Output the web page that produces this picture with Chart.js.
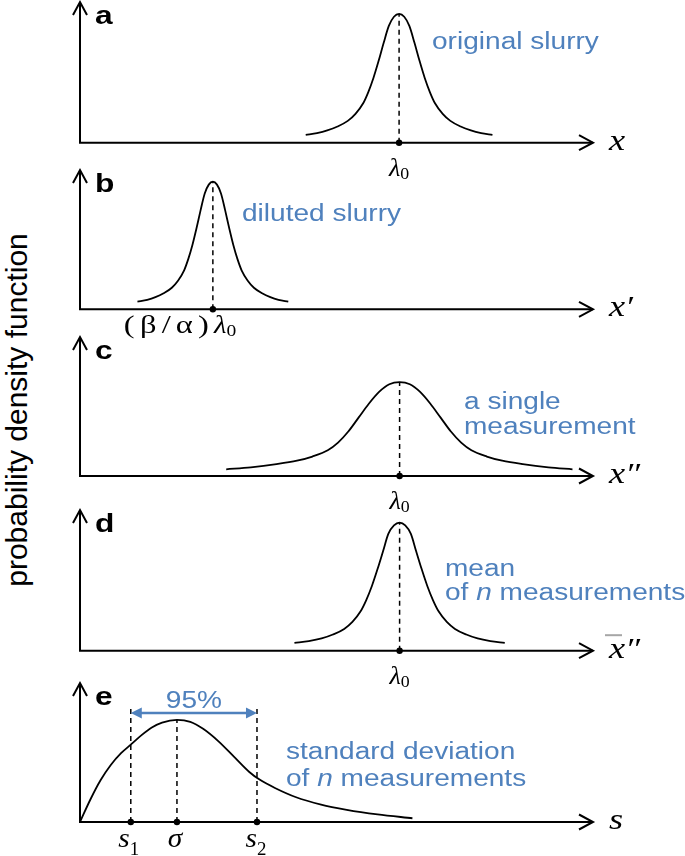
<!DOCTYPE html>
<html>
<head>
<meta charset="utf-8">
<script src="https://cdn.jsdelivr.net/npm/chart.js@4/dist/chart.umd.min.js"></script>
<style>
  body { margin: 0; background: #fff; width: 685px; height: 856px; position: relative; overflow: hidden; }
  .panel { position: absolute; left: 0; width: 685px; height: 190px; }
  #ylabel {
    position: absolute; left: 17px; top: 410px;
    transform: translate(-50%, -50%) rotate(-90deg);
    font: 30px "Liberation Sans", Arial, sans-serif; white-space: nowrap; color: #000;
  }
</style>
</head>
<body>
<div id="ylabel">probability density function</div>
<div class="panel" id="pa"><canvas id="ca"></canvas></div>
<div class="panel" id="pb"><canvas id="cb"></canvas></div>
<div class="panel" id="pc"><canvas id="cc"></canvas></div>
<div class="panel" id="pd"><canvas id="cd"></canvas></div>
<div class="panel" id="pe"><canvas id="ce"></canvas></div>
<script>
// curve a: original slurry
const xA = [44.0, 46.2, 48.2, 50.2, 52.2, 53.7, 55.2, 56.2, 57.2, 58.2, 59.2, 60.2, 61.2, 62.2,
            63.2, 64.2, 65.2, 66.2, 67.2, 68.2, 69.2, 70.7, 72.2, 74.2, 76.2, 78.2, 80.4];
const yA = [0.055, 0.068, 0.087, 0.115, 0.155, 0.205, 0.28, 0.36, 0.46, 0.58, 0.71, 0.83, 0.895, 0.915,
            0.895, 0.83, 0.71, 0.58, 0.46, 0.36, 0.28, 0.205, 0.155, 0.115, 0.087, 0.068, 0.055];
// curve b: diluted slurry
const xB = [11.2, 13.1, 14.7, 16.3, 17.9, 19.1, 20.3, 21.1, 21.9, 22.7, 23.5, 24.3, 25.1, 25.9,
            26.7, 27.5, 28.3, 29.1, 29.9, 30.7, 31.5, 32.7, 33.9, 35.5, 37.1, 38.7, 40.6];
const yB = [0.055, 0.068, 0.087, 0.115, 0.155, 0.205, 0.28, 0.36, 0.46, 0.58, 0.71, 0.83, 0.895, 0.916,
            0.895, 0.83, 0.71, 0.58, 0.46, 0.36, 0.28, 0.205, 0.155, 0.115, 0.087, 0.068, 0.055];
// curve c: a single measurement
const xC = [28.5, 33.3, 38.3, 42.3, 45.3, 48.3, 50.3, 52.3, 54.3, 56.3, 58.3, 60.3, 62.3,
            64.3, 66.3, 68.3, 70.3, 72.3, 74.3, 76.3, 79.3, 82.3, 86.3, 91.3, 96.0];
const yC = [0.048, 0.062, 0.085, 0.11, 0.14, 0.185, 0.24, 0.32, 0.42, 0.52, 0.605, 0.66, 0.675,
            0.66, 0.605, 0.52, 0.42, 0.32, 0.24, 0.185, 0.14, 0.11, 0.085, 0.062, 0.048];
// curve d: mean of n measurements
const xD = [41.8, 44.6, 47.1, 49.3, 51.5, 53.1, 54.7, 55.8, 56.9, 58.0, 59.1, 60.1, 61.2, 62.3,
            63.4, 64.5, 65.5, 66.6, 67.7, 68.8, 69.9, 71.5, 73.1, 75.3, 77.5, 80.0, 82.8];
const yD = [0.055, 0.068, 0.087, 0.115, 0.155, 0.205, 0.28, 0.36, 0.46, 0.58, 0.71, 0.83, 0.89, 0.91,
            0.89, 0.83, 0.71, 0.58, 0.46, 0.36, 0.28, 0.205, 0.155, 0.115, 0.087, 0.068, 0.055];
// curve e: standard deviation of n measurements
const xE = [0, 2, 4, 6, 8, 10, 12, 14, 16, 18.9, 21.5, 24, 27, 30, 33, 35, 38, 42, 47, 52, 58, 64.8];
const yE = [0, 0.16, 0.3, 0.41, 0.495, 0.56, 0.625, 0.68, 0.715, 0.734, 0.72, 0.67, 0.58, 0.47,
            0.36, 0.305, 0.245, 0.18, 0.125, 0.088, 0.055, 0.027];

// marked positions on the horizontal axes and the height of their dashed lines
const markA = [62.2], markTopA = [0.915];
const markB = [25.9], markTopB = [0.916];
const markC = [62.3], markTopC = [0.675];
const markD = [62.3], markTopD = [0.91];
const markE = [9.9, 18.9, 34.5], markTopE = [0.82, 0.734, 0.82];
const span95 = [9.9, 34.5], span95Y = 0.784;

const SANS = '"Liberation Sans", Arial, sans-serif';
const SERIF = '"Liberation Serif", "Times New Roman", serif';
const BLUE = '#4f81bd';
const SX = 1.22;

function runs(ctx, parts, x, y, color, align, sx) {
  sx = sx || SX;
  ctx.save();
  ctx.fillStyle = color;
  ctx.textBaseline = 'alphabetic';
  ctx.textAlign = 'left';
  const widths = parts.map(p => {
    ctx.font = p.f;
    ctx.letterSpacing = (p.ls || 0) + 'px';
    return ctx.measureText(p.t).width * (p.sx || sx);
  });
  const total = widths.reduce((s, w) => s + w, 0);
  let cx = align === 'center' ? x - total / 2 : x;
  parts.forEach((p, i) => {
    ctx.save();
    ctx.font = p.f;
    ctx.letterSpacing = (p.ls || 0) + 'px';
    ctx.translate(cx, y + (p.dy || 0));
    ctx.scale(p.sx || sx, 1);
    ctx.fillText(p.t, 0, 0);
    ctx.restore();
    cx += widths[i];
  });
  ctx.letterSpacing = '0px';
  ctx.restore();
}

const note = t => ({ t: t, f: '23px ' + SANS });
const noteI = t => ({ t: t, f: 'italic 23px ' + SANS });
const lam0 = () => [{ t: 'λ', f: 'italic 25px ' + SERIF }, { t: '0', f: '17px ' + SERIF, dy: 3 }];
const ax = t => [{ t: t, f: 'italic 29px ' + SERIF }];

function makeDeco(o) {
  return {
    id: 'deco',
    beforeDatasetsDraw(chart) {
      const { ctx, chartArea: a } = chart;
      ctx.save();
      ctx.strokeStyle = '#000';
      ctx.lineWidth = 2;
      ctx.beginPath();
      ctx.moveTo(a.left, a.top);
      ctx.lineTo(a.left, a.bottom);
      ctx.lineTo(a.right, a.bottom);
      ctx.stroke();
      ctx.beginPath();
      ctx.moveTo(a.left - 7, a.top + 13);
      ctx.lineTo(a.left, a.top);
      ctx.lineTo(a.left + 7, a.top + 13);
      ctx.moveTo(a.right - 14, a.bottom - 7.5);
      ctx.lineTo(a.right, a.bottom);
      ctx.lineTo(a.right - 14, a.bottom + 7.5);
      ctx.stroke();
      ctx.restore();
    },
    afterDatasetsDraw(chart) {
      const { ctx, chartArea: a, scales } = chart;
      runs(ctx, [{ t: o.letter, f: 'bold 26px ' + SANS }], a.left + 15, a.top + 22, '#000', 'left');
      runs(ctx, o.axisName, a.right + 16, a.bottom + 7, '#000', 'left', 1.25);
      if (o.bar) {
        ctx.save();
        ctx.strokeStyle = '#a6a6a6';
        ctx.lineWidth = 2;
        ctx.beginPath();
        ctx.moveTo(a.right + 12, a.bottom - 15.5);
        ctx.lineTo(a.right + 29, a.bottom - 15.5);
        ctx.stroke();
        ctx.restore();
      }
      o.ticks.forEach(tk => {
        const px = scales.x.getPixelForValue(tk.v);
        runs(ctx, tk.parts, px + (tk.shift || 0), a.bottom + tk.dy, '#000', tk.align || 'center', tk.sx || 1.05);
      });
      o.notes.forEach(n => runs(ctx, n.parts, n.x, a.top + n.dy, BLUE, 'left'));
      if (o.span) {
        const x1 = scales.x.getPixelForValue(o.span.from);
        const x2 = scales.x.getPixelForValue(o.span.to);
        const y = scales.y.getPixelForValue(o.span.y);
        ctx.save();
        ctx.strokeStyle = BLUE;
        ctx.fillStyle = BLUE;
        ctx.lineWidth = 2.5;
        ctx.beginPath();
        ctx.moveTo(x1 + 8, y);
        ctx.lineTo(x2 - 8, y);
        ctx.stroke();
        ctx.beginPath();
        ctx.moveTo(x1, y); ctx.lineTo(x1 + 11, y - 5.5); ctx.lineTo(x1 + 11, y + 5.5); ctx.closePath();
        ctx.moveTo(x2, y); ctx.lineTo(x2 - 11, y - 5.5); ctx.lineTo(x2 - 11, y + 5.5); ctx.closePath();
        ctx.fill();
        ctx.restore();
        runs(ctx, [note(o.span.label)], (x1 + x2) / 2, a.top + o.span.dy, BLUE, 'center');
      }
    }
  };
}

function pts(xs, ys) { return xs.map((x, i) => ({ x: x, y: ys[i] })); }

function makePanel(canvasId, divId, top, axis, xs, ys, marks, markTops, decoOpts) {
  const H = 190;
  document.getElementById(divId).style.top = (top - 4) + 'px';
  const datasets = [{
    data: pts(xs, ys),
    borderColor: '#000', borderWidth: 1.8, pointRadius: 0,
    cubicInterpolationMode: 'monotone', fill: false
  }];
  marks.forEach((m, i) => {
    datasets.push({
      data: [{ x: m, y: 0 }, { x: m, y: markTops[i] }],
      borderColor: '#000', borderWidth: 1.5, borderDash: [5, 4], pointRadius: 0
    });
  });
  datasets.push({
    data: marks.map(m => ({ x: m, y: 0 })),
    showLine: false, pointRadius: 3.2, pointBackgroundColor: '#000', pointBorderWidth: 0, clip: false
  });
  return new Chart(document.getElementById(canvasId), {
    type: 'line',
    data: { datasets: datasets },
    options: {
      responsive: true, maintainAspectRatio: false, animation: false,
      layout: { padding: { left: 80, right: 92, top: 4, bottom: H - 4 - (axis - top) } },
      scales: {
        x: { type: 'linear', min: 0, max: 100, display: false },
        y: { min: 0, max: 1, display: false }
      },
      plugins: { legend: { display: false }, tooltip: { enabled: false } }
    },
    plugins: [makeDeco(decoOpts)]
  });
}

makePanel('ca', 'pa', 2, 142.7, xA, yA, markA, markTopA, {
  letter: 'a', axisName: ax('x'),
  ticks: [{ v: markA[0], parts: lam0(), dy: 33 }],
  notes: [{ x: 432, dy: 47, parts: [note('original slurry')] }]
});
makePanel('cb', 'pb', 170, 309.3, xB, yB, markB, markTopB, {
  letter: 'b', axisName: ax('x′'),
  ticks: [{ v: markB[0], align: 'left', shift: -89, dy: 24,
    parts: [{ t: '(β/α)', f: '25px ' + SERIF, sx: 1.3, ls: 4 }, { t: 'λ', f: 'italic 25px ' + SERIF, sx: 1.15 },
            { t: '0', f: '17px ' + SERIF, dy: 3, sx: 1.15 }] }],
  notes: [{ x: 242, dy: 51, parts: [note('diluted slurry')] }]
});
makePanel('cc', 'pc', 337, 476, xC, yC, markC, markTopC, {
  letter: 'c', axisName: ax('x″'),
  ticks: [{ v: markC[0], parts: lam0(), dy: 33 }],
  notes: [{ x: 464, dy: 72, parts: [note('a single')] }, { x: 464, dy: 97, parts: [note('measurement')] }]
});
makePanel('cd', 'pd', 510, 650.7, xD, yD, markD, markTopD, {
  letter: 'd', axisName: ax('x″'), bar: true,
  ticks: [{ v: markD[0], parts: lam0(), dy: 33 }],
  notes: [{ x: 445, dy: 66, parts: [note('mean')] },
          { x: 445, dy: 90, parts: [note('of '), noteI('n'), note(' measurements')] }]
});
makePanel('ce', 'pe', 683, 822, xE, yE, markE, markTopE, {
  letter: 'e', axisName: ax('s'),
  ticks: [
    { v: markE[0], shift: -2, dy: 25, parts: [{ t: 's', f: 'italic 28px ' + SERIF }, { t: '1', f: '18px ' + SERIF, dy: 8 }] },
    { v: markE[1], shift: -2, dy: 25, parts: [{ t: 'σ', f: 'italic 28px ' + SERIF }] },
    { v: markE[2], shift: -1, dy: 25, parts: [{ t: 's', f: 'italic 28px ' + SERIF }, { t: '2', f: '18px ' + SERIF, dy: 8 }] }
  ],
  notes: [{ x: 286, dy: 76, parts: [note('standard deviation')] },
          { x: 286, dy: 103, parts: [note('of '), noteI('n'), note(' measurements')] }],
  span: { from: span95[0], to: span95[1], y: span95Y, label: '95%', dy: 25 }
});
</script>
</body>
</html>
